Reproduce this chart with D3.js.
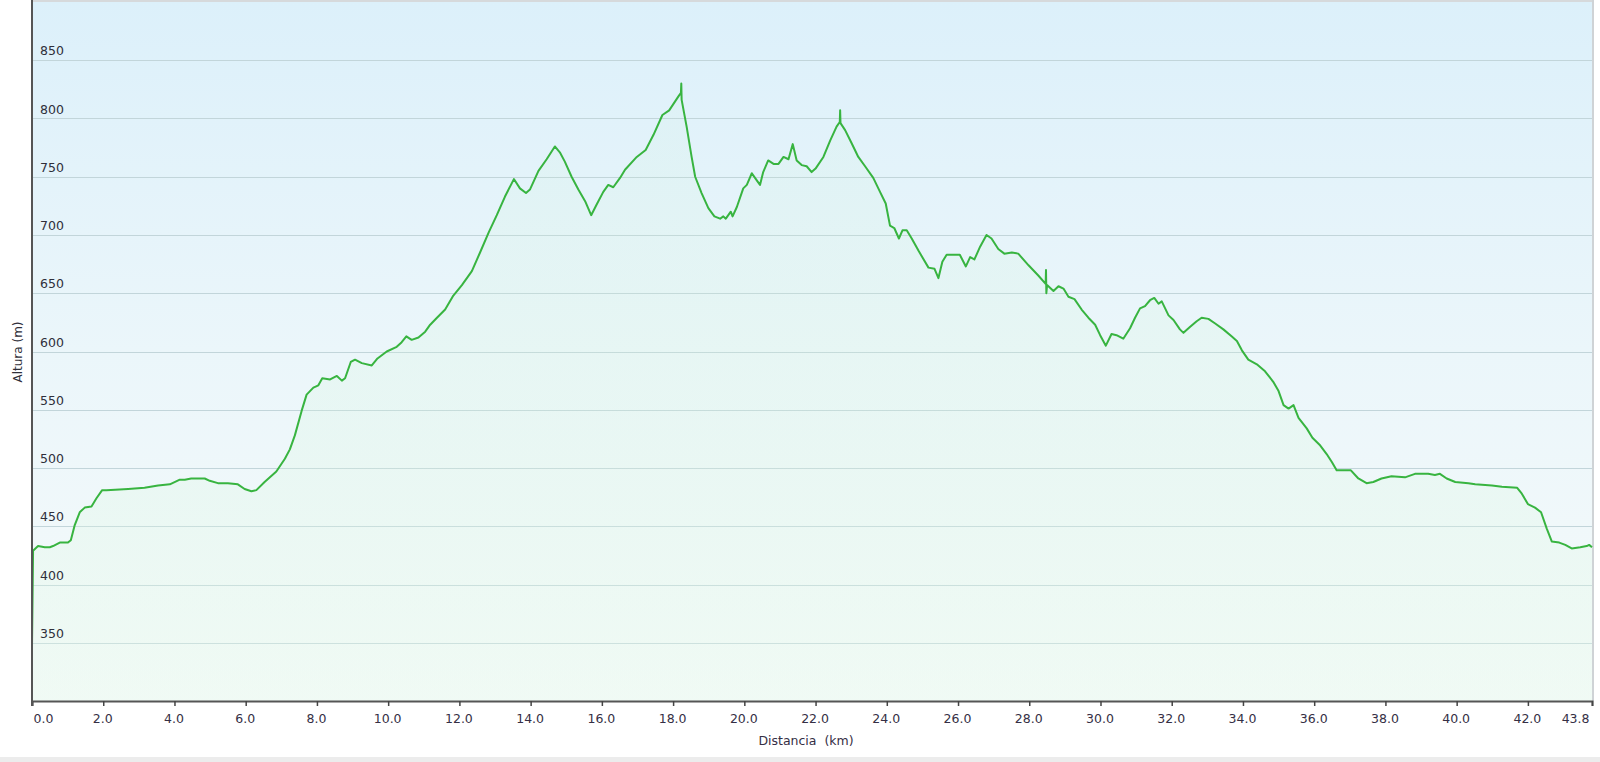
<!DOCTYPE html>
<html>
<head>
<meta charset="utf-8">
<script src="https://cdn.jsdelivr.net/npm/d3@7"></script>
<style>
  html, body { margin: 0; padding: 0; background: #ffffff; }
  svg { display: block; }
  text { font-family: "DejaVu Sans", Verdana, sans-serif; }
</style>
</head>
<body>
<svg id="chart" width="1600" height="762"></svg>
<script>
// ---- data ----
const distanceKm = [0,0.03,0.17,0.36,0.5,0.59,0.78,1.01,1.09,1.2,1.34,1.48,1.67,1.81,1.97,2.09,2.7,3.16,3.54,3.87,4.15,4.29,4.47,4.85,4.99,5.22,5.5,5.78,5.97,6.16,6.3,6.53,6.86,7.1,7.24,7.38,7.57,7.71,7.9,8.04,8.15,8.37,8.56,8.7,8.79,8.95,9.07,9.26,9.54,9.7,9.96,10.24,10.38,10.51,10.66,10.85,11.04,11.18,11.37,11.6,11.83,12.07,12.35,12.58,12.82,13.05,13.28,13.53,13.7,13.87,13.98,14.22,14.45,14.68,14.82,14.96,15.15,15.34,15.53,15.7,15.85,16.04,16.18,16.32,16.51,16.65,16.98,17.23,17.45,17.7,17.89,18.15,18.22,18.23,18.24,18.38,18.52,18.62,18.8,18.99,19.16,19.32,19.41,19.48,19.62,19.67,19.79,19.97,20.07,20.21,20.3,20.44,20.53,20.67,20.82,20.96,21.1,21.24,21.36,21.47,21.61,21.75,21.89,22.0,22.22,22.41,22.59,22.68,22.69,22.7,22.83,23.01,23.2,23.39,23.62,23.81,23.97,24.09,24.21,24.34,24.44,24.56,24.7,24.9,25.17,25.34,25.45,25.56,25.68,25.92,26.05,26.22,26.34,26.46,26.62,26.8,26.94,27.13,27.3,27.51,27.69,27.98,28.26,28.46,28.47,28.48,28.5,28.68,28.82,28.96,29.1,29.27,29.47,29.66,29.85,29.99,30.15,30.31,30.45,30.64,30.83,30.97,31.11,31.25,31.39,31.51,31.63,31.72,31.91,32.05,32.23,32.33,32.51,32.7,32.84,33.03,33.22,33.45,33.68,33.83,33.97,34.15,34.39,34.62,34.85,35.0,35.14,35.28,35.42,35.56,35.79,35.95,36.15,36.35,36.5,36.63,36.82,37.03,37.24,37.47,37.66,37.89,38.17,38.55,38.83,39.2,39.39,39.53,39.72,39.96,40.33,40.52,40.99,41.27,41.7,41.83,42.0,42.2,42.37,42.53,42.67,42.88,43.05,43.23,43.47,43.65,43.72,43.8];
const elevationM = [347,429,433,432,432,433,436,436,438,451,462,466,467,474,481,481,482,483,485,486,490,490,491,491,489,487,487,486,482,480,481,488,497,508,516,528,549,563,569,571,577,576,579,575,577,591,593,590,588,594,600,604,608,613,610,612,617,623,629,636,648,657,669,685,702,717,733,748,740,736,739,755,765,776,771,763,750,739,729,717,726,737,743,741,749,756,767,773,786,803,807,819,822,830,816,793,767,750,736,723,716,714,716,714,720,716,724,740,743,753,749,743,754,764,761,761,767,765,778,764,760,759,754,757,767,781,793,797,807,796,790,779,767,759,749,737,727,708,706,697,704,704,697,686,672,671,663,677,683,683,683,673,681,679,690,700,697,688,684,685,684,674,665,658,670,650,657,652,656,654,647,645,636,629,623,614,605,615,614,611,620,629,637,639,644,646,641,643,631,627,619,616,621,626,629,628,624,619,613,609,601,593,589,583,574,566,554,551,554,543,534,526,520,512,505,498,498,498,491,487,488,491,493,492,495,495,494,495,491,488,487,486,485,484,483,478,469,466,462,448,437,436,434,431,432,433,434,432];
const xTickValues = [0,2,4,6,8,10,12,14,16,18,20,22,24,26,28,30,32,34,36,38,40,42,43.8];
const yTickValues = [350,400,450,500,550,600,650,700,750,800,850];
const xTitle = "Distancia  (km)";
const yTitle = "Altura (m)";

// ---- layout ----
const svg = d3.select("#chart");
const plot = { left: 32, right: 1592, top: 2, bottom: 701 };

const x = d3.scaleLinear().domain([0, 43.8]).range([plot.left, plot.right]);
const y = d3.scaleLinear().domain([300, 900]).range([plot.bottom, plot.top]);

const data = distanceKm.map((d, i) => ({ km: d, m: elevationM[i] }));

const defs = svg.append("defs");
const bg = defs.append("linearGradient").attr("id", "bg").attr("x1", 0).attr("y1", 0).attr("x2", 0).attr("y2", 1);
bg.append("stop").attr("offset", "0%").attr("stop-color", "#dcf0fa");
bg.append("stop").attr("offset", "50%").attr("stop-color", "#ebf6fa");
bg.append("stop").attr("offset", "100%").attr("stop-color", "#f5fafa");

const ag = defs.append("linearGradient").attr("id", "areaG").attr("x1", 0).attr("y1", 0).attr("x2", 0).attr("y2", 1);
ag.append("stop").attr("offset", "0%").attr("stop-color", "#c8f2d0").attr("stop-opacity", 0.08);
ag.append("stop").attr("offset", "100%").attr("stop-color", "#e6fbea").attr("stop-opacity", 0.35);

// bottom band of the page
svg.append("rect").attr("x", 0).attr("y", 757).attr("width", 1600).attr("height", 5).attr("fill", "#ececec");

// plot background
svg.append("rect")
  .attr("x", plot.left).attr("y", plot.top)
  .attr("width", plot.right - plot.left).attr("height", plot.bottom - plot.top)
  .attr("fill", "url(#bg)");

svg.append("line").attr("x1", plot.left).attr("x2", 1594).attr("y1", 1).attr("y2", 1)
  .attr("stroke", "#d6d9db").attr("stroke-width", 2);
svg.append("line").attr("x1", 1593).attr("x2", 1593).attr("y1", 0).attr("y2", plot.bottom)
  .attr("stroke", "#cfd3d6").attr("stroke-width", 2);

// gridlines
svg.append("g").selectAll("line").data(yTickValues).join("line")
  .attr("x1", plot.left).attr("x2", plot.right)
  .attr("y1", d => Math.round(y(d)) + 0.5).attr("y2", d => Math.round(y(d)) + 0.5)
  .attr("stroke", "#c2d5da").attr("stroke-width", 1.2);

// area + line
const area = d3.area().x(d => x(d.km)).y0(plot.bottom).y1(d => y(d.m));
svg.append("path").datum(data).attr("d", area).attr("fill", "url(#areaG)");

const line = d3.line().x(d => x(d.km)).y(d => y(d.m));
svg.append("path").datum(data).attr("d", line)
  .attr("fill", "none").attr("stroke", "#38b440").attr("stroke-width", 2)
  .attr("stroke-linejoin", "round");

// y labels inside plot
svg.append("g").selectAll("text").data(yTickValues).join("text")
  .attr("x", plot.left + 8).attr("y", d => y(d) - 5)
  .attr("font-size", 12.5).attr("fill", "#2f2f3a")
  .text(d => d);

// x axis
const xAxis = d3.axisBottom(x).tickValues(xTickValues).tickSize(5).tickFormat(d => d.toFixed(1));
const gx = svg.append("g").attr("transform", `translate(0,${plot.bottom})`).call(xAxis);
gx.select(".domain").attr("stroke", "#555").attr("stroke-width", 2);
gx.selectAll(".tick line").attr("stroke", "#444").attr("stroke-width", 1.5);
gx.selectAll(".tick text")
  .attr("font-family", "DejaVu Sans, Verdana, sans-serif")
  .attr("font-size", 12.5).attr("fill", "#352f45").attr("dy", 0).attr("y", 22)
  .attr("text-anchor", (d, i) => i === 0 ? "start" : (i === xTickValues.length - 1 ? "end" : "middle"))
  .attr("dx", (d, i) => i === 0 ? 1 : (i === xTickValues.length - 1 ? -3 : -1));

// y axis line
svg.append("line").attr("x1", plot.left).attr("x2", plot.left).attr("y1", plot.top - 2).attr("y2", plot.bottom + 5)
  .attr("stroke", "#555").attr("stroke-width", 2);

// axis titles
svg.append("text").attr("x", 806).attr("y", 745).attr("text-anchor", "middle")
  .attr("font-size", 12.5).attr("fill", "#352f45")
  .style("white-space", "pre").text(xTitle);
svg.append("text").attr("transform", `translate(22,352) rotate(-90)`).attr("text-anchor", "middle")
  .attr("font-size", 12).attr("fill", "#2f2f3a").text(yTitle);
</script>
</body>
</html>
